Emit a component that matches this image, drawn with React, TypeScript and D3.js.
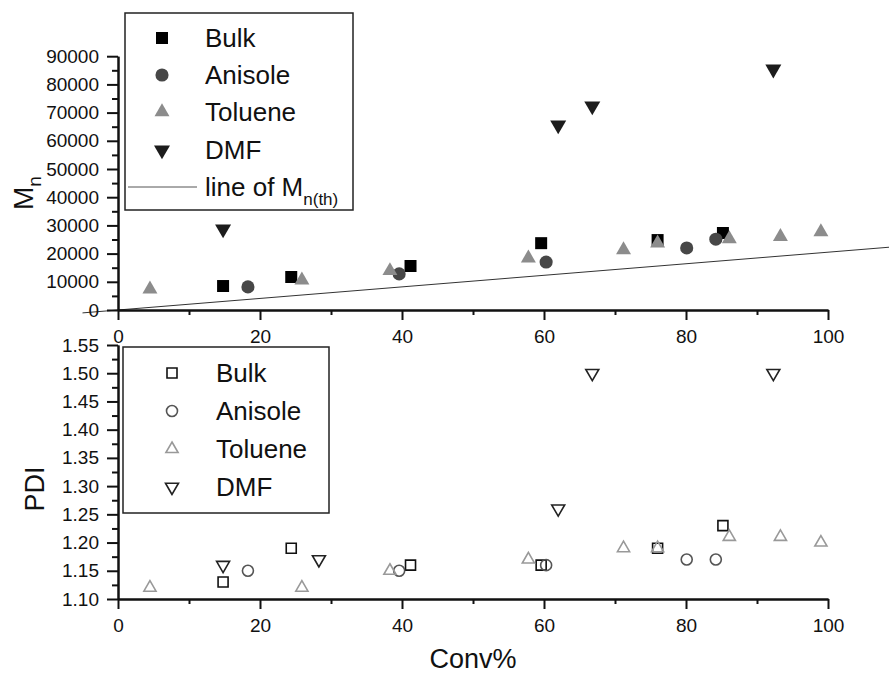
import React, { useEffect, useRef } from 'react'
import * as d3 from 'd3'

// conversion (%) values
const bulkConv = [14.8, 24.4, 41.2, 59.6, 76.0, 85.2]
const bulkMn = [8500, 11700, 15600, 23700, 24800, 27300]
const bulkPdi = [1.13, 1.19, 1.16, 1.16, 1.19, 1.23]

const anisoleConv = [18.3, 39.6, 60.3, 80.1, 84.2]
const anisoleMn = [8200, 12800, 17000, 22000, 25100]
const anisolePdi = [1.15, 1.15, 1.16, 1.17, 1.17]

const tolueneConv = [4.5, 25.9, 38.3, 57.8, 71.2, 76.0, 86.1, 93.3, 99.0]
const tolueneMn = [7400, 10600, 13900, 18400, 21300, 23700, 25200, 26000, 27700]
const toluenePdi = [1.12, 1.12, 1.15, 1.17, 1.19, 1.19, 1.21, 1.21, 1.2]

const dmfMnConv = [14.8, 62.0, 66.8, 92.3]
const dmfMn = [28700, 65600, 72300, 85400]
const dmfPdiConv = [14.8, 28.3, 62.0, 66.8, 92.3]
const dmfPdi = [1.16, 1.17, 1.26, 1.5, 1.5]

// theoretical Mn line end points
const thConv = [-5, 110]
const thMn = [-1025, 22550]

const xTicks = [0, 20, 40, 60, 80, 100]
const xMinor = [10, 30, 50, 70, 90]
const mnTicks = [0, 10000, 20000, 30000, 40000, 50000, 60000, 70000, 80000, 90000]
const mnMinor = [5000, 15000, 25000, 35000, 45000, 55000, 65000, 75000, 85000]
const pdiTicks = [1.1, 1.15, 1.2, 1.25, 1.3, 1.35, 1.4, 1.45, 1.5, 1.55]
const pdiMinor = [1.125, 1.175, 1.225, 1.275, 1.325, 1.375, 1.425, 1.475, 1.525]

const legendNames = ['Bulk', 'Anisole', 'Toluene', 'DMF']

const FONT = '"Liberation Sans", Arial, Helvetica, sans-serif'

const x = d3.scaleLinear().domain([0, 100]).range([118, 828])
const yTop = d3.scaleLinear().domain([0, 90000]).range([310, 56.2])
const yBot = d3.scaleLinear().domain([1.1, 1.55]).range([599, 345])

const filled = [
  { type: d3.symbolSquare, size: 144, fill: '#000', rot: 0 },
  { type: d3.symbolCircle, size: 135, fill: '#474747', rot: 0 },
  { type: d3.symbolTriangle, size: 97, fill: '#8c8c8c', rot: 0 },
  { type: d3.symbolTriangle, size: 111, fill: '#1c1c1c', rot: 180 },
]
const open = [
  { type: d3.symbolSquare, size: 100, stroke: '#111', rot: 0 },
  { type: d3.symbolCircle, size: 95, stroke: '#555', rot: 0 },
  { type: d3.symbolTriangle, size: 64, stroke: '#999', rot: 0 },
  { type: d3.symbolTriangle, size: 73, stroke: '#222', rot: 180 },
]

function sym(i: number, isOpen: boolean) {
  const s = isOpen ? open[i] : filled[i]
  return d3.symbol().type(s.type).size(s.size)() as string
}

export default function App() {
  const axRef = useRef<SVGGElement>(null)

  useEffect(() => {
    const g = d3.select(axRef.current)
    g.selectAll('*').remove()

    const style = (sel: any) => {
      sel.selectAll('text').attr('font-family', FONT).attr('font-size', 19).attr('fill', '#111')
      sel.selectAll('line').attr('stroke', '#111').attr('stroke-width', 2)
      sel.select('.domain').attr('stroke', '#111').attr('stroke-width', 2)
      sel.attr('font-family', null)
    }

    // top panel
    g.append('g').attr('transform', 'translate(118,0)')
      .call(d3.axisLeft(yTop).tickValues(mnTicks).tickSize(11).tickSizeOuter(0).tickPadding(8).tickFormat(d3.format('d')))
      .call(style)
    g.append('g').attr('transform', 'translate(118,0)')
      .call(d3.axisLeft(yTop).tickValues(mnMinor).tickSize(6).tickSizeOuter(0).tickFormat(() => ''))
      .call(style)
    g.append('g').attr('transform', 'translate(0,310)')
      .call(d3.axisBottom(x).tickValues(xTicks).tickSize(10).tickSizeOuter(0).tickPadding(10).tickFormat(d3.format('d')))
      .call(style)
    g.append('g').attr('transform', 'translate(0,310)')
      .call(d3.axisBottom(x).tickValues(xMinor).tickSize(5).tickSizeOuter(0).tickFormat(() => ''))
      .call(style)

    // bottom panel
    g.append('g').attr('transform', 'translate(118,0)')
      .call(d3.axisLeft(yBot).tickValues(pdiTicks).tickSize(11).tickSizeOuter(0).tickPadding(8).tickFormat(d3.format('.2f')))
      .call(style)
    g.append('g').attr('transform', 'translate(118,0)')
      .call(d3.axisLeft(yBot).tickValues(pdiMinor).tickSize(6).tickSizeOuter(0).tickFormat(() => ''))
      .call(style)
    g.append('g').attr('transform', 'translate(0,599)')
      .call(d3.axisBottom(x).tickValues(xTicks).tickSize(10).tickSizeOuter(0).tickPadding(10).tickFormat(d3.format('d')))
      .call(style)
    g.append('g').attr('transform', 'translate(0,599)')
      .call(d3.axisBottom(x).tickValues(xMinor).tickSize(5).tickSizeOuter(0).tickFormat(() => ''))
      .call(style)
  }, [])

  const topSeries = [
    { cx: bulkConv, cy: bulkMn },
    { cx: anisoleConv, cy: anisoleMn },
    { cx: tolueneConv, cy: tolueneMn },
    { cx: dmfMnConv, cy: dmfMn },
  ]
  const botSeries = [
    { cx: bulkConv, cy: bulkPdi },
    { cx: anisoleConv, cy: anisolePdi },
    { cx: tolueneConv, cy: toluenePdi },
    { cx: dmfPdiConv, cy: dmfPdi },
  ]

  const thLine = d3.line<number>().x((d) => x(d)).y((d, i) => yTop(thMn[i]))(thConv) as string

  const topLegY = [38, 75, 112, 150]
  const botLegY = [373, 411, 449, 487]

  return (
    <svg width={889} height={675} style={{ position: 'absolute', left: 0, top: 0, background: '#fff' }}>
      <rect width={889} height={675} fill="#fff" />
      <path d={thLine} stroke="#333" strokeWidth={1} fill="none" />
      <g ref={axRef} />

      {/* top markers */}
      {topSeries.map((s, i) =>
        s.cx.map((c, j) => (
          <path key={`t${i}-${j}`} d={sym(i, false)} fill={filled[i].fill}
            transform={`translate(${x(c)},${yTop(s.cy[j])}) rotate(${filled[i].rot})`} />
        ))
      )}

      {/* bottom markers */}
      {botSeries.map((s, i) =>
        s.cx.map((c, j) => (
          <path key={`b${i}-${j}`} d={sym(i, true)} fill="none" stroke={open[i].stroke} strokeWidth={1.6}
            transform={`translate(${x(c)},${yBot(s.cy[j])}) rotate(${open[i].rot})`} />
        ))
      )}

      {/* top legend */}
      <rect x={125} y={13} width={228} height={197} fill="none" stroke="#222" strokeWidth={1.5} />
      {legendNames.map((n, i) => (
        <g key={`tl${i}`}>
          <path d={sym(i, false)} fill={filled[i].fill} transform={`translate(162,${topLegY[i]}) rotate(${filled[i].rot})`} />
          <text x={205} y={topLegY[i]} dy="0.36em" fontFamily={FONT} fontSize={26} fill="#111">{n}</text>
        </g>
      ))}
      <line x1={128} x2={197} y1={187} y2={187} stroke="#555" strokeWidth={1} />
      <text x={205} y={196} fontFamily={FONT} fontSize={26} fill="#111">
        line of M<tspan fontSize={17} dy={9}>n(th)</tspan>
      </text>

      {/* bottom legend */}
      <rect x={123} y={347} width={206} height={166} fill="none" stroke="#222" strokeWidth={1.5} />
      {legendNames.map((n, i) => (
        <g key={`bl${i}`}>
          <path d={sym(i, true)} fill="none" stroke={open[i].stroke} strokeWidth={1.6}
            transform={`translate(172,${botLegY[i]}) rotate(${open[i].rot})`} />
          <text x={216} y={botLegY[i]} dy="0.36em" fontFamily={FONT} fontSize={26} fill="#111">{n}</text>
        </g>
      ))}

      {/* axis titles */}
      <text transform="translate(33,193) rotate(-90)" textAnchor="middle" fontFamily={FONT} fontSize={28} fill="#111">
        M<tspan fontSize={19} dy={8}>n</tspan>
      </text>
      <text transform="translate(44,489) rotate(-90)" textAnchor="middle" fontFamily={FONT} fontSize={27} fill="#111">
        PDI
      </text>
      <text x={473} y={668} textAnchor="middle" fontFamily={FONT} fontSize={27} fill="#111">Conv%</text>
    </svg>
  )
}
